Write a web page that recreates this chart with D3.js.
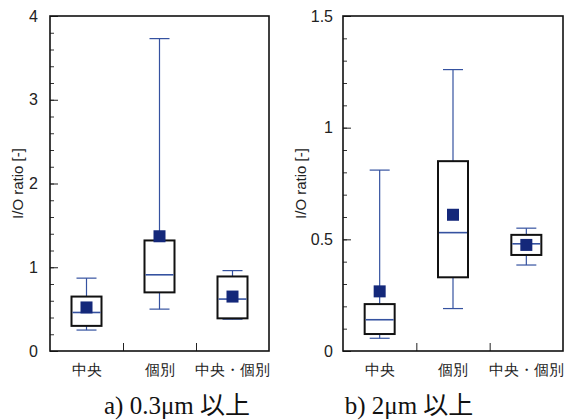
<!DOCTYPE html>
<html>
<head>
<meta charset="utf-8">
<script src="https://cdn.jsdelivr.net/npm/d3@7"></script>
<style>
  body { margin: 0; background: #fff; }
  svg { display: block; }
  .tick text { font-family: "Liberation Sans", Arial, sans-serif; }
</style>
</head>
<body>
<svg id="chart" width="565" height="420"></svg>
<script>
// categories shared by both panels
var categories = ["中央", "個別", "中央・個別"];

// a) 0.3um and above
var aWhiskerHigh = [0.87, 3.73, 0.96];
var aBoxHigh     = [0.65, 1.32, 0.89];
var aMedian      = [0.46, 0.91, 0.62];
var aBoxLow      = [0.30, 0.70, 0.39];
var aWhiskerLow  = [0.25, 0.50, 0.38];
var aMean        = [0.52, 1.37, 0.65];
var aTicks = [0, 1, 2, 3, 4];

// b) 2um and above
var bWhiskerHigh = [0.81, 1.26, 0.55];
var bBoxHigh     = [0.21, 0.85, 0.52];
var bMedian      = [0.14, 0.53, 0.48];
var bBoxLow      = [0.076, 0.33, 0.43];
var bWhiskerLow  = [0.057, 0.19, 0.385];
var bMean        = [0.267, 0.61, 0.475];
var bTicks = [0, 0.5, 1, 1.5];

var svg = d3.select("#chart");

function panel(opt) {
  var g = svg.append("g");
  var top = 16, bottom = 351;

  var y = d3.scaleLinear().domain([0, opt.max]).range([bottom, top]);
  var x = d3.scaleBand().domain(categories).range([opt.left, opt.right]);
  var xl = d3.scaleLinear().domain([0, 3]).range([opt.left, opt.right]);

  // minor ticks
  g.append("g")
    .attr("transform", `translate(${opt.left},0)`)
    .call(d3.axisLeft(y).tickValues(d3.range(0, opt.max + 1e-9, opt.minor)).tickSize(-4).tickFormat(""))
    .call(a => a.select(".domain").remove())
    .selectAll("line").attr("stroke", "#333");

  // major ticks + labels
  g.append("g")
    .attr("transform", `translate(${opt.left},0)`)
    .call(d3.axisLeft(y).tickValues(opt.ticks).tickSize(-8).tickPadding(opt.pad).tickFormat(d3.format("")))
    .call(a => a.select(".domain").remove())
    .call(a => a.selectAll("line").attr("stroke", "#222"))
    .call(a => a.selectAll("text").attr("font-size", 16).attr("fill", "#222"));

  // bottom ticks between the categories
  g.append("g")
    .attr("transform", `translate(0,${bottom})`)
    .call(d3.axisBottom(xl).tickValues([1, 2]).tickSize(-8).tickFormat(""))
    .call(a => a.select(".domain").remove())
    .selectAll("line").attr("stroke", "#222");

  // category labels
  g.append("g")
    .attr("transform", `translate(0,${bottom})`)
    .call(d3.axisBottom(x).tickSize(0).tickPadding(13))
    .call(a => a.select(".domain").remove())
    .selectAll("text")
    .attr("font-family", "'Noto Sans CJK JP', sans-serif")
    .attr("font-size", 15)
    .attr("fill", "#222");

  // frame
  g.append("rect")
    .attr("x", opt.left).attr("y", top)
    .attr("width", opt.right - opt.left).attr("height", bottom - top)
    .attr("fill", "none").attr("stroke", "#111").attr("stroke-width", 1.6);

  // y label
  g.append("text")
    .attr("transform", `translate(${opt.labelX},${(top + bottom) / 2}) rotate(-90)`)
    .attr("text-anchor", "middle")
    .attr("dy", "0.35em")
    .attr("font-family", "'Liberation Sans', Arial, sans-serif")
    .attr("font-size", 15)
    .attr("fill", "#222")
    .text("I/O ratio [-]");

  var bw = 30, cap = 20, ms = 12;
  var blue = "#3552a0";

  categories.forEach(function(c, i) {
    var cx = x(c) + x.bandwidth() / 2;
    // whisker
    g.append("line")
      .attr("x1", cx).attr("x2", cx)
      .attr("y1", y(opt.wHigh[i])).attr("y2", y(opt.wLow[i]))
      .attr("stroke", blue).attr("stroke-width", 1.2);
    [opt.wHigh[i], opt.wLow[i]].forEach(function(v) {
      g.append("line")
        .attr("x1", cx - cap / 2).attr("x2", cx + cap / 2)
        .attr("y1", y(v)).attr("y2", y(v))
        .attr("stroke", blue).attr("stroke-width", 1.2);
    });
    // box
    g.append("rect")
      .attr("x", cx - bw / 2).attr("width", bw)
      .attr("y", y(opt.bHigh[i])).attr("height", y(opt.bLow[i]) - y(opt.bHigh[i]))
      .attr("fill", "#fff").attr("stroke", "#111").attr("stroke-width", 2);
    // median
    g.append("line")
      .attr("x1", cx - bw / 2 + 1).attr("x2", cx + bw / 2 - 1)
      .attr("y1", y(opt.med[i])).attr("y2", y(opt.med[i]))
      .attr("stroke", blue).attr("stroke-width", 1.6);
    // mean
    g.append("rect")
      .attr("x", cx - ms / 2).attr("y", y(opt.mean[i]) - ms / 2)
      .attr("width", ms).attr("height", ms)
      .attr("fill", "#14287a");
  });

  // caption
  svg.append("text")
    .attr("x", opt.capX).attr("y", 414)
    .attr("text-anchor", "middle")
    .attr("font-family", "'Liberation Serif', 'Times New Roman', 'Noto Sans CJK JP', serif")
    .attr("font-size", 25)
    .attr("fill", "#111")
    .text(opt.caption);
}

panel({
  left: 50, right: 269, max: 4, minor: 0.2, ticks: aTicks, pad: 12, labelX: 18,
  wHigh: aWhiskerHigh, bHigh: aBoxHigh, med: aMedian, bLow: aBoxLow, wLow: aWhiskerLow, mean: aMean,
  caption: "a) 0.3μm 以上", capX: 177
});

panel({
  left: 343, right: 563, max: 1.5, minor: 0.1, ticks: bTicks, pad: 10, labelX: 301,
  wHigh: bWhiskerHigh, bHigh: bBoxHigh, med: bMedian, bLow: bBoxLow, wLow: bWhiskerLow, mean: bMean,
  caption: "b) 2μm 以上", capX: 409
});
</script>
</body>
</html>
